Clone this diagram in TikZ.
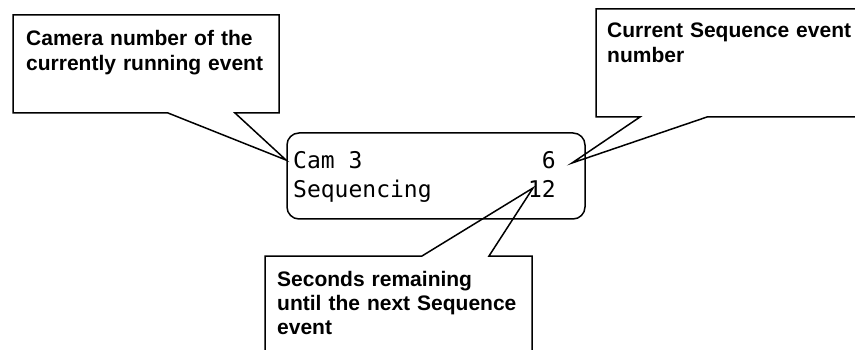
\documentclass[tikz,border=0pt]{standalone}
\usepackage{fontspec}
\setmainfont{Liberation Sans}
\newfontfamily\dispfont{DejaVu Sans Mono}
\begin{document}
\begin{tikzpicture}[x=1pt,y=-1pt,
  callout/.style={draw=black,line width=1.5pt,line join=miter},
  calltext/.style={anchor=base west,inner sep=0pt,align=left,text width=#1,
    font=\fontsize{21}{24.5}\selectfont\bfseries},
  disptext/.style={inner sep=0pt,font=\fontsize{23}{29}\selectfont\dispfont},
  display/.style={draw=black,line width=1.5pt,rounded corners=12pt}]
\useasboundingbox (0,0) rectangle (855,350);
\clip (0,0) rectangle (855,350);
% display
\draw[display] (287,133) rectangle (585,219);
\node[disptext,anchor=base west] (cam) at (293,169) {Cam 3};
\node[disptext,anchor=base east] (camnum) at (556,169) {6};
\node[disptext,anchor=base west] (seq) at (293,198) {Sequencing};
\node[disptext,anchor=base east] (seqnum) at (556,198) {12};
\coordinate (tipL) at (286,160);
\coordinate (tipR) at (572,163);
\coordinate (tipB) at (533,188);
% left callout
\draw[callout] (13,15) -- (279,15) -- (279,113) -- (235,113) -- (tipL) -- (168,113) -- (13,113) -- cycle;
\node[calltext=260pt] (camtxt) at (26,46) {Camera number of the\\currently running event};
% right callout
\draw[callout] (596,9) -- (870,9) -- (870,117) -- (707,117) -- (tipR) -- (640,117) -- (596,117) -- cycle;
\node[calltext=260pt] (evtxt) at (607,38) {Current Sequence event\\number};
% bottom callout
\draw[callout] (265,256) -- (422,256) -- (tipB) -- (489,256) -- (532,256) -- (532,370) -- (265,370) -- cycle;
\node[calltext=260pt] (sectxt) at (277,286) {Seconds remaining\\until the next Sequence\\event};
\end{tikzpicture}
\end{document}
